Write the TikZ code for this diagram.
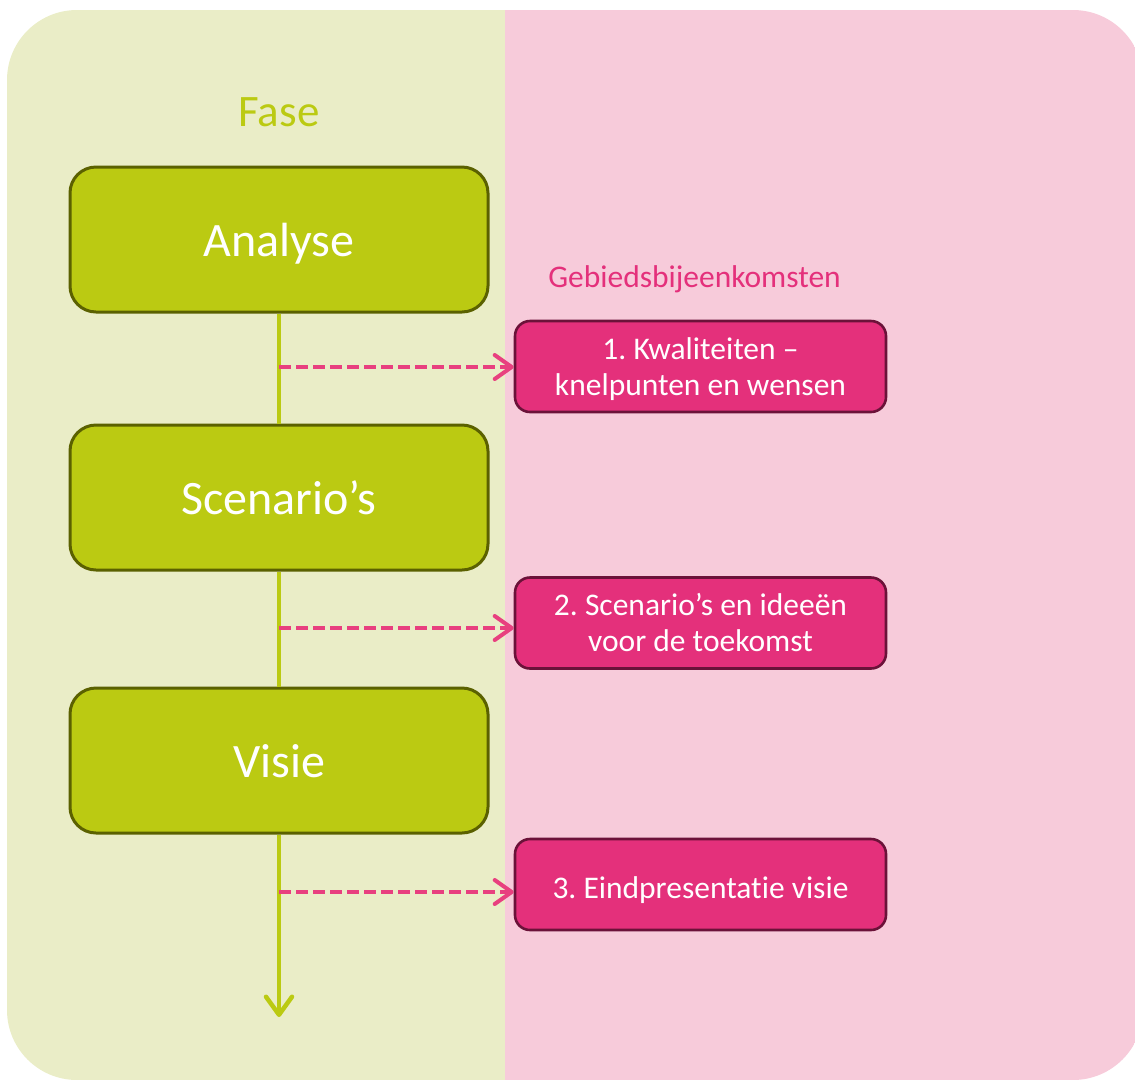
\documentclass[tikz,border=0pt]{standalone}
\usepackage{fontspec}
\setmainfont{Carlito}[Ligatures=NoCommon]
\usetikzlibrary{arrows.meta}
\definecolor{greenbg}{HTML}{EAEDC7}
\definecolor{pinkbg}{HTML}{F7CBDA}
\definecolor{greenbox}{HTML}{BBCA12}
\definecolor{greenborder}{HTML}{5B6100}
\definecolor{pinkbox}{HTML}{E4307B}
\definecolor{pinkborder}{HTML}{6B1239}
\definecolor{pinkarrow}{HTML}{E8407F}
\tikzset{
  phasebox/.style={draw=greenborder, line width=3pt, fill=greenbox, rounded corners=26pt,
    minimum width=418pt, minimum height=145pt, text=white, inner sep=0pt,
    text height=43pt, text depth=10pt,
    font=\fontsize{48}{58}\selectfont},
  meetbox/.style={draw=pinkborder, line width=2.6pt, fill=pinkbox, rounded corners=15pt,
    minimum width=371pt, minimum height=91pt, text=white, align=center, inner sep=0pt,
    font=\fontsize{31.5}{36}\selectfont},
  twoline/.style={text height=63pt, text depth=6pt},
  oneline/.style={text height=33pt, text depth=6pt},
  timeline/.style={draw=greenbox, line width=4.5pt},
  dasharrow/.style={draw=pinkarrow, line width=4pt, dash pattern=on 12pt off 5pt,
    -{Straight Barb[length=17pt,width=24pt,round]}},
}
\begin{document}
\frenchspacing
\begin{tikzpicture}[x=1pt,y=-1pt]
\useasboundingbox (0,0) rectangle (1135,1080);
\begin{scope}
  \clip[rounded corners=70pt] (7,10) rectangle (1143,1080);
  \fill[greenbg] (0,0) rectangle (505,1080);
  \fill[pinkbg] (505,0) rectangle (1143,1080);
\end{scope}

\node[text=greenbox, anchor=base, font=\fontsize{45}{54}\selectfont] (fase) at (279,126) {Fase};
\node[text=pinkbox, anchor=base, font=\fontsize{31.5}{36}\selectfont] (gebied) at (694.5,287) {Gebiedsbijeenkomsten};

\coordinate (p1) at (279,367);
\coordinate (p2) at (279,628);
\coordinate (p3) at (279,892);
\coordinate (end) at (279,1017);

\node[phasebox] (analyse) at (279,239.5) {Analyse};
\node[phasebox] (scen) at (279,497.5) {Scenario’s};
\node[phasebox] (visie) at (279,760.5) {Visie};

\draw[timeline] (analyse.south) -- (scen.north);
\draw[timeline] (scen.south) -- (visie.north);
\draw[timeline, -{Straight Barb[length=18pt,width=26pt,round]}] (visie.south) -- (end);

\node[meetbox, twoline] (m1) at (700.5,366.5) {1. Kwaliteiten –\\knelpunten en wensen};
\node[meetbox, twoline] (m2) at (700.5,623) {2. Scenario’s en ideeën\\voor de toekomst};
\node[meetbox, oneline] (m3) at (700.5,884.5) {3. Eindpresentatie visie};

\draw[dasharrow] (p1) -- (p1 -| m1.west);
\draw[dasharrow] (p2) -- (p2 -| m2.west);
\draw[dasharrow] (p3) -- (p3 -| m3.west);
\end{tikzpicture}
\end{document}
